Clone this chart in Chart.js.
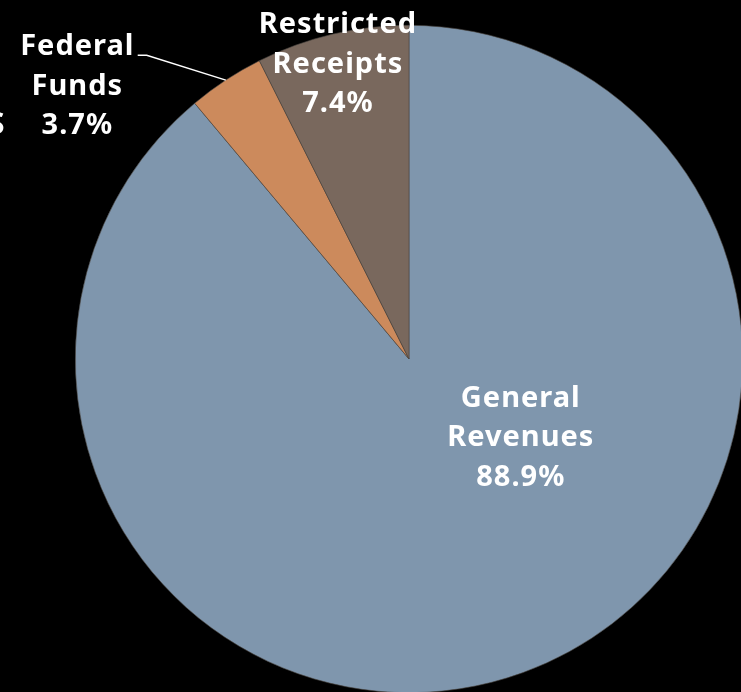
<!DOCTYPE html>
<html lang="en">
<head>
    <meta charset="UTF-8">
    <title>Revenue Sources</title>
    <script src="https://cdn.jsdelivr.net/npm/chart.js"></script>
    <style>
        html, body { margin: 0; padding: 0; background: #000; overflow: hidden; width: 741px; height: 692px; }
        #wrap { position: absolute; left: 0; top: 0; width: 818px; height: 718px; }
    </style>
</head>
<body>
    <div id="wrap"><canvas id="pieChart"></canvas></div>

    <script>
        // data
        const categories = ['General Revenues', 'Federal Funds', 'Restricted Receipts'];
        const labelLines = [['General', 'Revenues'], ['Federal', 'Funds'], ['Restricted', 'Receipts']];
        const shares = [88.9, 3.7, 7.4];
        const sliceColors = ['#7f96ad', '#cc8a5c', '#79685d'];

        // label centre (middle line), as a fraction of the radius from the pie centre
        const labelSpots = [[0.335, 0.236], [-0.994, -0.817], [-0.213, -0.883]];

        const labelPlugin = {
            id: 'sliceLabels',
            afterDraw(chart) {
                const ctx = chart.ctx;
                const arcs = chart.getDatasetMeta(0).data;
                const cx = arcs[0].x, cy = arcs[0].y, r = arcs[0].outerRadius;
                ctx.save();
                ctx.fillStyle = '#fff';
                ctx.font = 'bold 29px "Noto Sans", sans-serif';
                ctx.letterSpacing = '1px';
                ctx.textAlign = 'center';
                ctx.textBaseline = 'middle';
                shares.forEach((v, i) => {
                    const lx = cx + labelSpots[i][0] * r;
                    const ly = cy + labelSpots[i][1] * r;
                    const lines = labelLines[i].concat([v.toFixed(1) + '%']);
                    lines.forEach((t, k) => {
                        ctx.fillText(t, lx, ly + (k - 1) * 39.5);
                    });
                });

                // leader line for the small Federal Funds slice
                const a = arcs[1];
                const mid = (a.startAngle + a.endAngle) / 2;
                const ex = cx + Math.cos(mid) * r;
                const ey = cy + Math.sin(mid) * r;
                ctx.strokeStyle = '#fff';
                ctx.lineWidth = 1.5;
                ctx.beginPath();
                ctx.moveTo(cx - 0.813 * r, cy - 0.91 * r);
                ctx.lineTo(cx - 0.786 * r, cy - 0.91 * r);
                ctx.lineTo(ex, ey);
                ctx.stroke();
                ctx.restore();
            }
        };

        new Chart(document.getElementById('pieChart'), {
            type: 'pie',
            data: {
                labels: categories,
                datasets: [{
                    data: shares,
                    backgroundColor: sliceColors,
                    borderColor: '#4a4540',
                    borderWidth: 0.6
                }]
            },
            options: {
                responsive: true,
                maintainAspectRatio: false,
                animation: false,
                layout: { padding: 25 },
                plugins: {
                    legend: { display: false },
                    tooltip: { enabled: false }
                }
            },
            plugins: [labelPlugin]
        });
    </script>
    <div style="position:absolute;left:-12px;top:102px;color:#fff;font:bold 30px 'Noto Sans',sans-serif;">S</div>
</body>
</html>
